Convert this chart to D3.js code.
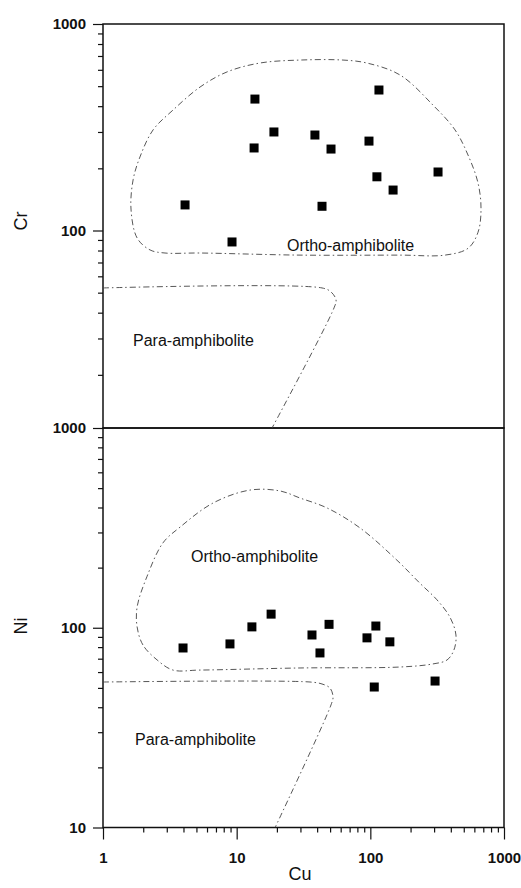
<!DOCTYPE html>
<html>
<head>
<meta charset="utf-8">
<script src="https://cdn.jsdelivr.net/npm/d3@7"></script>
<style>
  body { margin: 0; background: #fff; }
  text { font-family: Arial, "Liberation Sans", sans-serif; }
</style>
</head>
<body>
<svg id="chart" width="521" height="888"></svg>
<script>
// top panel: Cu vs Cr
const cuCr = [4.11, 9.23, 13.7, 13.5, 19.0, 38.5, 43.5, 50.8, 97.7, 112, 116, 148, 321];
const cr   = [133, 88, 433, 251, 300, 290, 131, 248, 271, 182, 479, 157, 192];
// bottom panel: Cu vs Ni
const cuNi = [3.97, 8.91, 13.0, 18.1, 36.6, 42.0, 49.1, 94.4, 110, 140, 107, 305];
const ni   = [79.2, 83, 101, 117, 92, 74.8, 104, 89, 102, 85, 50.5, 54.1];

// field boundaries, [Cu, value]
const orthoCr = [[2.25,80.5],[1.80,92],[1.62,127],[1.68,176],[1.89,227],[2.37,307],[3.34,383],[5.32,495],
  [8.47,586],[14.9,647],[29.8,669],[62.4,669],[94.4,647],[167,566],[294,405],[430,307],[538,232],
  [639,170],[673,127],[639,98],[538,82],[362,76],[167,76],[29.8,76],[5.32,77.8],[2.91,77.8]];
const paraCr = [[1,52.7],[43.5,52.7],[50.8,50.4],[55.4,46.1],[53.5,42.2],[18.4,11.06]];
const orthoNi = [[2.54,69],[1.99,82],[1.80,101],[1.80,127],[2.13,180],[2.81,266],[3.77,319],[6.65,421],
  [12.6,489],[21.1,484],[29.8,446],[47.4,398],[83.7,316],[158,218],[235,167],[315,138],[394,113],
  [437,92],[422,77.4],[375,69],[294,65.9],[167,63.6],[29.8,62.9],[5.32,61.4],[3.34,61.4]];
const paraNi = [[1,53.5],[35.4,53.5],[43.5,52.3],[49.9,49.9],[52.6,45],[50.8,41.1],[19.4,10]];

const xTicks = [1, 10, 100, 1000];
const crTicks = [100, 1000];
const niTicks = [10, 100, 1000];

const svg = d3.select("#chart");
const left = 103, right = 504;
const topY = 24, midY = 428, botY = 827.5;

const x = d3.scaleLog().domain([1, 1000]).range([left, right]);
const yCr = d3.scaleLog().domain([10, 1000]).range([topY + 2 * 206.5, topY]);
const yNi = d3.scaleLog().domain([10, 1000]).range([botY, midY]);

function minors(lo, hi) {
  let out = [];
  for (let p = lo; p < hi; p *= 10)
    for (let k = 2; k <= 9; k++) out.push(k * p);
  return out;
}

// clip for top panel (scale goes below the divider)
svg.append("clipPath").attr("id", "clipTop")
  .append("rect").attr("x", left).attr("y", topY).attr("width", right - left).attr("height", midY - topY);
svg.append("clipPath").attr("id", "clipBot")
  .append("rect").attr("x", left).attr("y", midY).attr("width", right - left).attr("height", botY - midY);

function styleAxis(g) {
  g.select(".domain").remove();
  g.selectAll("line").attr("stroke", "#111").attr("stroke-width", 1.2);
  g.selectAll("text").attr("font-size", 15).attr("font-weight", "bold").attr("fill", "#111")
    .attr("font-family", "Arial, 'Liberation Sans', sans-serif");
}

// left axes
svg.append("g").attr("transform", `translate(${left},0)`)
  .call(d3.axisLeft(yCr).tickValues(crTicks).tickSize(10).tickPadding(7).tickFormat(d3.format("d")))
  .call(styleAxis);
svg.append("g").attr("transform", `translate(${left},0)`)
  .call(d3.axisLeft(yCr).tickValues(minors(10, 1000).filter(v => yCr(v) < midY - 2)).tickSize(5).tickFormat(""))
  .call(styleAxis);
svg.append("g").attr("transform", `translate(${left},0)`)
  .call(d3.axisLeft(yNi).tickValues(niTicks).tickSize(10).tickPadding(7).tickFormat(d3.format("d")))
  .call(styleAxis);
svg.append("g").attr("transform", `translate(${left},0)`)
  .call(d3.axisLeft(yNi).tickValues(minors(10, 1000)).tickSize(5).tickFormat(""))
  .call(styleAxis);

// bottom axis
svg.append("g").attr("transform", `translate(0,${botY})`)
  .call(d3.axisBottom(x).tickValues(xTicks).tickSize(12).tickPadding(13).tickFormat(d3.format("d")))
  .call(styleAxis);
svg.append("g").attr("transform", `translate(0,${botY})`)
  .call(d3.axisBottom(x).tickValues(minors(1, 1000)).tickSize(5).tickFormat(""))
  .call(styleAxis);

// panel frames
[[topY, midY], [midY, botY]].forEach(([a, b]) => {
  svg.append("rect").attr("x", left).attr("y", a).attr("width", right - left).attr("height", b - a)
    .attr("fill", "none").attr("stroke", "#111").attr("stroke-width", 1.5);
});

// boundaries
function field(data, y, closed, clip) {
  let line = d3.line().x(d => x(d[0])).y(d => y(d[1]))
    .curve(closed ? d3.curveCatmullRomClosed.alpha(0.5) : d3.curveCatmullRom.alpha(0.5));
  svg.append("path").attr("d", line(data)).attr("clip-path", `url(#${clip})`)
    .attr("fill", "none").attr("stroke", "#444").attr("stroke-width", 0.9)
    .attr("stroke-dasharray", "6,3,1.5,3");
}
field(orthoCr, yCr, true, "clipTop");
field(paraCr, yCr, false, "clipTop");
field(orthoNi, yNi, true, "clipBot");
field(paraNi, yNi, false, "clipBot");

// points
const sq = 9;
svg.append("g").selectAll("rect").data(d3.zip(cuCr, cr)).join("rect")
  .attr("x", d => x(d[0]) - sq / 2).attr("y", d => yCr(d[1]) - sq / 2)
  .attr("width", sq).attr("height", sq).attr("fill", "#000");
svg.append("g").selectAll("rect").data(d3.zip(cuNi, ni)).join("rect")
  .attr("x", d => x(d[0]) - sq / 2).attr("y", d => yNi(d[1]) - sq / 2)
  .attr("width", sq).attr("height", sq).attr("fill", "#000");

// field labels
const labels = [
  {t: "Ortho-amphibolite", x: 287, y: 251},
  {t: "Para-amphibolite", x: 133, y: 346},
  {t: "Ortho-amphibolite", x: 191, y: 562},
  {t: "Para-amphibolite", x: 135, y: 745}
];
svg.append("g").selectAll("text").data(labels).join("text")
  .attr("x", d => d.x).attr("y", d => d.y).attr("font-size", 16).attr("fill", "#111")
  .text(d => d.t);

// axis titles
svg.append("text").attr("x", 300).attr("y", 880).attr("text-anchor", "middle")
  .attr("font-size", 18).attr("fill", "#111").text("Cu");
svg.append("text").attr("transform", "translate(27,221) rotate(-90)").attr("text-anchor", "middle")
  .attr("font-size", 18).attr("fill", "#111").text("Cr");
svg.append("text").attr("transform", "translate(27,626) rotate(-90)").attr("text-anchor", "middle")
  .attr("font-size", 18).attr("fill", "#111").text("Ni");
</script>
</body>
</html>
